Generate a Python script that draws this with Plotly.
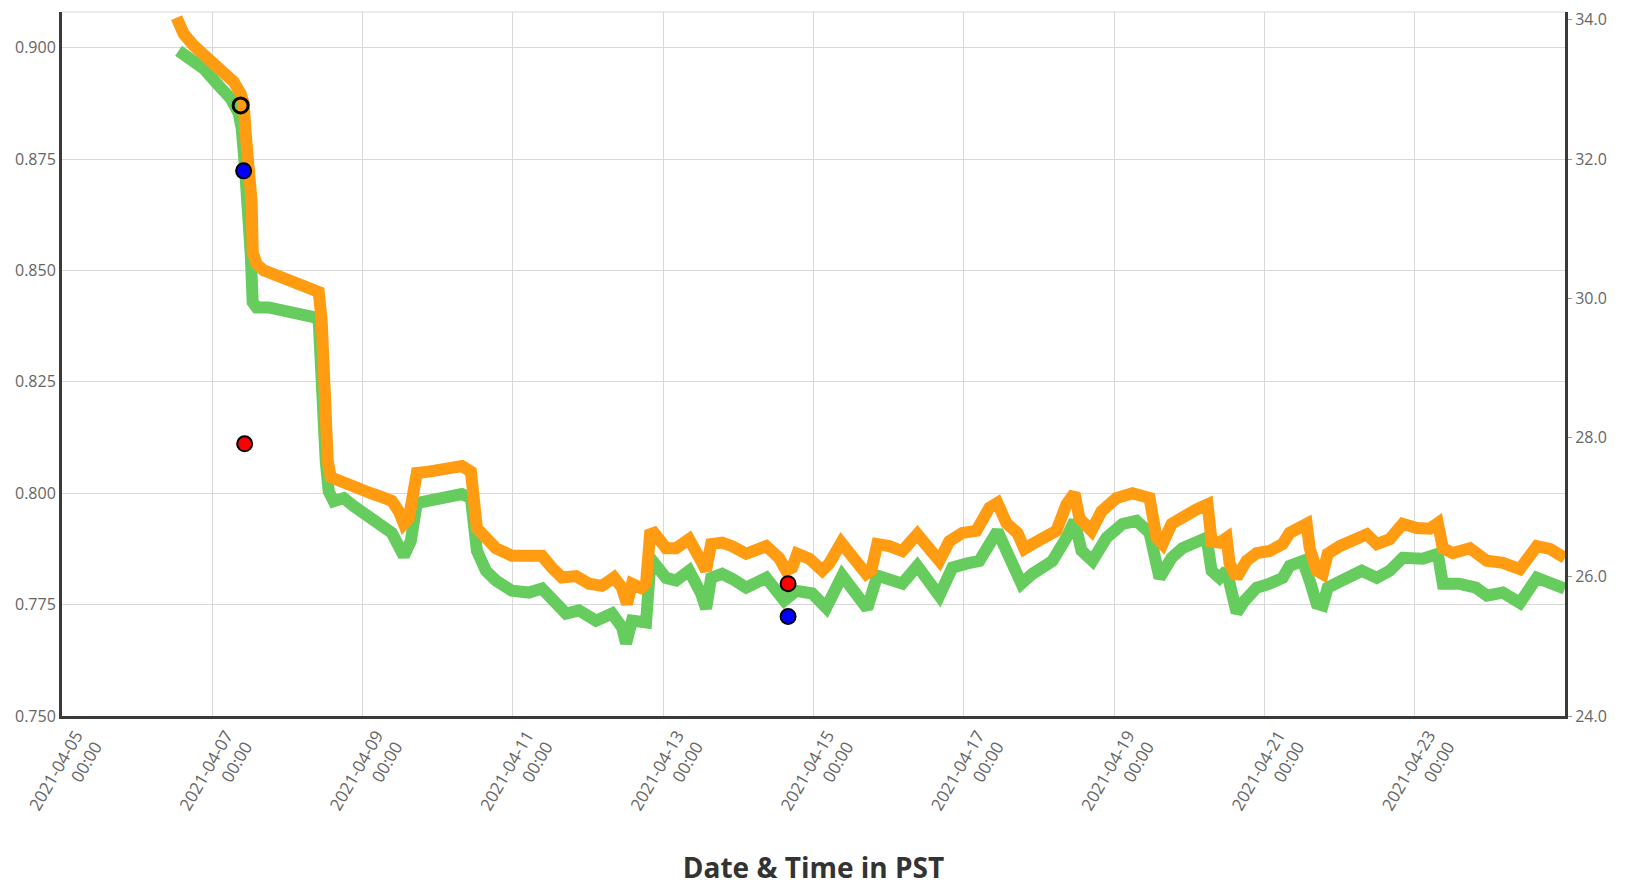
import plotly.graph_objects as go

# ---------------- data ----------------
orange_time = [
    "2021-04-06 12:36", "2021-04-06 14:50", "2021-04-06 18:02", "2021-04-06 21:14", "2021-04-07 00:26",
    "2021-04-07 03:38", "2021-04-07 06:49", "2021-04-07 09:04", "2021-04-07 10:01", "2021-04-07 10:40",
    "2021-04-07 11:18", "2021-04-07 11:56", "2021-04-07 12:35", "2021-04-07 12:54", "2021-04-07 14:10",
    "2021-04-07 16:25", "2021-04-07 19:37", "2021-04-07 22:48", "2021-04-08 02:00", "2021-04-08 05:12",
    "2021-04-08 08:23", "2021-04-08 09:59", "2021-04-08 10:57", "2021-04-08 11:35", "2021-04-08 12:14",
    "2021-04-08 12:52", "2021-04-08 13:50", "2021-04-08 17:59", "2021-04-08 22:47", "2021-04-09 02:37",
    "2021-04-09 05:10", "2021-04-09 09:20", "2021-04-09 11:34", "2021-04-09 13:10", "2021-04-09 14:46",
    "2021-04-09 16:22", "2021-04-09 17:19", "2021-04-09 21:09", "2021-04-10 02:35", "2021-04-10 07:42",
    "2021-04-10 10:35", "2021-04-10 11:32", "2021-04-10 12:30", "2021-04-10 15:23", "2021-04-10 18:34",
    "2021-04-10 23:41", "2021-04-11 05:07", "2021-04-11 09:17", "2021-04-11 12:28", "2021-04-11 15:40",
    "2021-04-11 20:09", "2021-04-12 00:18", "2021-04-12 04:28", "2021-04-12 08:17", "2021-04-12 10:51",
    "2021-04-12 12:27", "2021-04-12 14:03", "2021-04-12 16:55", "2021-04-12 18:31", "2021-04-12 19:48",
    "2021-04-12 21:05", "2021-04-13 00:55", "2021-04-13 04:07", "2021-04-13 08:16", "2021-04-13 12:06",
    "2021-04-13 13:42", "2021-04-13 15:18", "2021-04-13 18:49", "2021-04-13 22:01", "2021-04-14 02:29",
    "2021-04-14 08:53", "2021-04-14 13:02", "2021-04-14 15:16", "2021-04-14 17:12", "2021-04-14 18:48",
    "2021-04-14 22:38", "2021-04-15 02:47", "2021-04-15 05:01", "2021-04-15 08:52", "2021-04-15 12:22",
    "2021-04-15 16:51", "2021-04-15 18:27", "2021-04-15 20:22", "2021-04-16 00:12", "2021-04-16 04:22",
    "2021-04-16 09:09", "2021-04-16 12:02", "2021-04-16 16:11", "2021-04-16 19:23", "2021-04-16 23:32",
    "2021-04-17 04:01", "2021-04-17 08:10", "2021-04-17 10:44", "2021-04-17 13:36", "2021-04-17 17:07",
    "2021-04-17 19:21", "2021-04-17 21:55", "2021-04-18 02:23", "2021-04-18 05:35", "2021-04-18 08:47",
    "2021-04-18 11:20", "2021-04-18 12:56", "2021-04-18 16:46", "2021-04-18 19:58", "2021-04-19 00:46",
    "2021-04-19 05:52", "2021-04-19 11:19", "2021-04-19 13:33", "2021-04-19 15:28", "2021-04-19 18:21",
    "2021-04-19 21:52", "2021-04-20 02:20", "2021-04-20 05:51", "2021-04-20 07:08", "2021-04-20 09:41",
    "2021-04-20 11:56", "2021-04-20 12:53", "2021-04-20 15:08", "2021-04-20 18:19", "2021-04-20 21:31",
    "2021-04-21 01:40", "2021-04-21 05:50", "2021-04-21 08:04", "2021-04-21 11:16", "2021-04-21 13:30",
    "2021-04-21 14:28", "2021-04-21 16:42", "2021-04-21 18:37", "2021-04-21 20:13", "2021-04-22 00:03",
    "2021-04-22 04:13", "2021-04-22 08:41", "2021-04-22 11:53", "2021-04-22 16:02", "2021-04-22 20:11",
    "2021-04-23 00:40", "2021-04-23 04:49", "2021-04-23 07:23", "2021-04-23 08:59", "2021-04-23 12:10",
    "2021-04-23 17:37", "2021-04-23 23:02", "2021-04-24 04:09", "2021-04-24 09:35", "2021-04-24 15:01",
    "2021-04-24 19:11", "2021-04-24 23:58",
]
orange_val = [
    34.03, 33.80, 33.63, 33.49, 33.37,
    33.26, 33.11, 32.94, 32.80, 32.37,
    32.09, 31.87, 31.37, 30.66, 30.49,
    30.40, 30.34, 30.26, 30.20, 30.16,
    30.11, 30.09, 29.66, 28.80, 28.09,
    27.66, 27.43, 27.37, 27.27, 27.20,
    27.16, 27.09, 26.94, 26.76, 26.84,
    27.19, 27.49, 27.51, 27.54, 27.59,
    27.51, 27.23, 26.70, 26.56, 26.41,
    26.30, 26.30, 26.30, 26.13, 25.99,
    26.01, 25.90, 25.87, 25.99, 25.84,
    25.61, 25.90, 25.84, 25.90, 26.61,
    26.63, 26.41, 26.41, 26.54, 26.23,
    26.09, 26.47, 26.49, 26.44, 26.33,
    26.44, 26.27, 26.09, 26.13, 26.33,
    26.26, 26.09, 26.19, 26.49, 26.26,
    26.04, 26.09, 26.47, 26.44, 26.37,
    26.61, 26.47, 26.23, 26.51, 26.63,
    26.66, 26.99, 27.06, 26.77, 26.63,
    26.40, 26.47, 26.59, 26.66, 27.04,
    27.20, 26.84, 26.66, 26.94, 27.13,
    27.20, 27.13, 26.56, 26.47, 26.76,
    26.87, 26.97, 27.04, 26.51, 26.49,
    26.56, 26.19, 25.99, 26.23, 26.34,
    26.37, 26.47, 26.63, 26.70, 26.76,
    26.41, 26.09, 26.04, 26.33, 26.44,
    26.54, 26.61, 26.47, 26.54, 26.76,
    26.70, 26.69, 26.77, 26.41, 26.34,
    26.41, 26.23, 26.20, 26.11, 26.44,
    26.40, 26.27,
]

green_time = [
    "2021-04-06 13:14", "2021-04-06 16:26", "2021-04-06 21:14", "2021-04-07 02:02", "2021-04-07 05:52",
    "2021-04-07 08:25", "2021-04-07 09:23", "2021-04-07 10:20", "2021-04-07 10:59", "2021-04-07 11:37",
    "2021-04-07 12:15", "2021-04-07 12:54", "2021-04-07 14:10", "2021-04-07 18:01", "2021-04-07 22:48",
    "2021-04-08 03:36", "2021-04-08 08:23", "2021-04-08 09:59", "2021-04-08 10:57", "2021-04-08 11:35",
    "2021-04-08 12:14", "2021-04-08 13:11", "2021-04-08 14:47", "2021-04-08 17:59", "2021-04-08 21:11",
    "2021-04-09 00:23", "2021-04-09 02:37", "2021-04-09 05:10", "2021-04-09 09:20", "2021-04-09 13:10",
    "2021-04-09 15:24", "2021-04-09 17:19", "2021-04-09 21:09", "2021-04-10 02:35", "2021-04-10 07:42",
    "2021-04-10 10:35", "2021-04-10 12:30", "2021-04-10 15:23", "2021-04-10 18:34", "2021-04-10 23:41",
    "2021-04-11 05:07", "2021-04-11 09:17", "2021-04-11 12:28", "2021-04-11 16:57", "2021-04-11 21:07",
    "2021-04-12 02:32", "2021-04-12 07:39", "2021-04-12 10:51", "2021-04-12 12:08", "2021-04-12 14:03",
    "2021-04-12 18:31", "2021-04-12 19:48", "2021-04-12 21:05", "2021-04-13 00:55", "2021-04-13 04:07",
    "2021-04-13 08:16", "2021-04-13 12:06", "2021-04-13 13:42", "2021-04-13 15:18", "2021-04-13 18:49",
    "2021-04-13 22:01", "2021-04-14 02:29", "2021-04-14 08:53", "2021-04-14 13:02", "2021-04-14 14:38",
    "2021-04-14 18:28", "2021-04-14 23:35", "2021-04-15 04:04", "2021-04-15 09:11", "2021-04-15 17:10",
    "2021-04-15 20:22", "2021-04-16 04:22", "2021-04-16 09:09", "2021-04-16 16:11", "2021-04-16 20:20",
    "2021-04-17 00:49", "2021-04-17 04:58", "2021-04-17 10:44", "2021-04-17 15:31", "2021-04-17 18:25",
    "2021-04-17 21:55", "2021-04-18 04:18", "2021-04-18 08:47", "2021-04-18 11:20", "2021-04-18 13:35",
    "2021-04-18 17:05", "2021-04-18 21:34", "2021-04-19 02:41", "2021-04-19 07:09", "2021-04-19 11:19",
    "2021-04-19 14:31", "2021-04-19 18:21", "2021-04-19 21:52", "2021-04-20 02:20", "2021-04-20 05:32",
    "2021-04-20 07:08", "2021-04-20 09:41", "2021-04-20 11:56", "2021-04-20 13:32", "2021-04-20 15:08",
    "2021-04-20 17:41", "2021-04-20 21:31", "2021-04-21 01:40", "2021-04-21 05:50", "2021-04-21 08:04",
    "2021-04-21 12:14", "2021-04-21 14:28", "2021-04-21 16:42", "2021-04-21 18:37", "2021-04-21 20:13",
    "2021-04-22 00:41", "2021-04-22 07:05", "2021-04-22 11:53", "2021-04-22 16:02", "2021-04-22 20:11",
    "2021-04-23 02:35", "2021-04-23 07:23", "2021-04-23 08:59", "2021-04-23 14:07", "2021-04-23 19:32",
    "2021-04-23 23:04", "2021-04-24 04:09", "2021-04-24 09:35", "2021-04-24 15:01", "2021-04-24 19:11",
    "2021-04-24 23:58",
]
green_val = [
    0.8993, 0.8980, 0.8953, 0.8915, 0.8886,
    0.8853, 0.8819, 0.8741, 0.8685, 0.8618,
    0.8540, 0.8429, 0.8417, 0.8417, 0.8411,
    0.8402, 0.8395, 0.8388, 0.8295, 0.8161,
    0.8071, 0.8004, 0.7982, 0.7989, 0.7971,
    0.7955, 0.7942, 0.7931, 0.7911, 0.7859,
    0.7893, 0.7978, 0.7982, 0.7987, 0.7998,
    0.7989, 0.7871, 0.7826, 0.7804, 0.7781,
    0.7777, 0.7786, 0.7759, 0.7730, 0.7737,
    0.7714, 0.7730, 0.7699, 0.7663, 0.7714,
    0.7710, 0.7833, 0.7844, 0.7810, 0.7804,
    0.7826, 0.7775, 0.7741, 0.7810, 0.7819,
    0.7808, 0.7788, 0.7810, 0.7775, 0.7759,
    0.7781, 0.7775, 0.7743, 0.7815, 0.7741,
    0.7815, 0.7797, 0.7837, 0.7770, 0.7833,
    0.7842, 0.7848, 0.7915, 0.7848, 0.7797,
    0.7819, 0.7848, 0.7900, 0.7938, 0.7871,
    0.7848, 0.7900, 0.7931, 0.7938, 0.7911,
    0.7810, 0.7855, 0.7877, 0.7888, 0.7900,
    0.7826, 0.7810, 0.7826, 0.7759, 0.7732,
    0.7759, 0.7788, 0.7797, 0.7810, 0.7837,
    0.7848, 0.7804, 0.7752, 0.7748, 0.7788,
    0.7804, 0.7826, 0.7810, 0.7826, 0.7855,
    0.7853, 0.7864, 0.7797, 0.7797, 0.7788,
    0.7770, 0.7777, 0.7754, 0.7810, 0.7799,
    0.7786,
]

# event markers (right-axis units)
black_time = ["2021-04-07 09:03"]
black_val = [32.77]
blue_time = ["2021-04-07 10:00", "2021-04-14 15:53"]
blue_val = [31.83, 25.43]
red_time = ["2021-04-07 10:20", "2021-04-14 15:53"]
red_val = [27.91, 25.90]

tick_dates = ["2021-04-05", "2021-04-07", "2021-04-09", "2021-04-11", "2021-04-13",
              "2021-04-15", "2021-04-17", "2021-04-19", "2021-04-21", "2021-04-23"]
tick_labels = [d + "<br>00:00" for d in tick_dates]

x_range = ["2021-04-05", "2021-04-25"]
left_range = [0.75, 0.908]
right_range = [24.0, 34.112]

# ---------------- figure ----------------
ORANGE = "#FF9C12"
GREEN = "#66CC5E"
AXIS = "#3a3a3a"
GRID = "#d8d8d8"
TICKFONT = dict(family="Open Sans", size=16, color="#666666")
XTICKFONT = dict(family="Open Sans", size=17, color="#666666")

fig = go.Figure()
fig.add_trace(go.Scatter(x=green_time, y=green_val, mode="lines",
                         line=dict(color=GREEN, width=12), yaxis="y", hoverinfo="skip"))
fig.add_trace(go.Scatter(x=orange_time, y=orange_val, mode="lines",
                         line=dict(color=ORANGE, width=12), yaxis="y2", hoverinfo="skip"))
fig.add_trace(go.Scatter(x=black_time, y=black_val, mode="markers", yaxis="y2",
                         marker=dict(size=15, color="rgba(0,0,0,0)",
                                     line=dict(color="black", width=3))))
fig.add_trace(go.Scatter(x=blue_time, y=blue_val, mode="markers", yaxis="y2",
                         marker=dict(size=15, color="#0000FF",
                                     line=dict(color="black", width=2))))
fig.add_trace(go.Scatter(x=red_time, y=red_val, mode="markers", yaxis="y2",
                         marker=dict(size=15, color="#FF0000",
                                     line=dict(color="black", width=2))))

fig.update_layout(
    width=1627, height=890,
    margin=dict(l=62, r=62, t=8, b=174),
    paper_bgcolor="white", plot_bgcolor="white",
    showlegend=False,
    font=dict(family="Open Sans", color="#444"),
    xaxis=dict(
        type="date", range=x_range,
        tickmode="array", tickvals=tick_dates, ticktext=tick_labels,
        tickangle=-60, tickfont=XTICKFONT, ticklabelshift=14,
        showgrid=True, gridcolor=GRID, gridwidth=1,
        showline=True, linecolor=AXIS, linewidth=3,
        ticks="", zeroline=False,
        title=dict(text="<b>Date & Time in PST</b>",
                   font=dict(family="Open Sans", size=28, color="#333333"),
                   standoff=34),
    ),
    yaxis=dict(
        range=left_range, tick0=0.75, dtick=0.025, tickformat=".3f",
        tickfont=TICKFONT,
        showgrid=True, gridcolor=GRID, gridwidth=1,
        showline=True, linecolor=AXIS, linewidth=3,
        ticks="", zeroline=False,
    ),
    yaxis2=dict(
        range=right_range, tick0=24, dtick=2, tickformat=".1f",
        overlaying="y", side="right",
        tickfont=TICKFONT,
        showgrid=False,
        showline=True, linecolor=AXIS, linewidth=3,
        ticks="outside", ticklen=4, tickcolor="#999", zeroline=False,
    ),
    shapes=[dict(type="line", xref="paper", yref="paper", x0=0, x1=1, y0=1, y1=1,
                 line=dict(color=GRID, width=1))],
)

fig.write_html("out.html", config={"displayModeBar": False},
               post_script="document.body.style.margin='0px';")
